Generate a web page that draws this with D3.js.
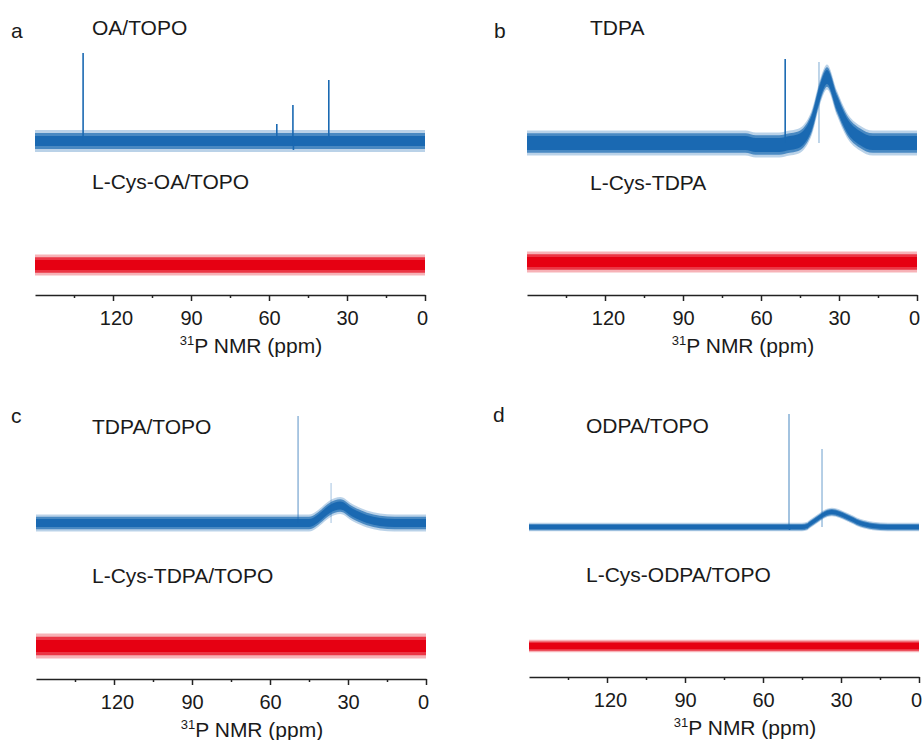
<!DOCTYPE html>
<html>
<head>
<meta charset="utf-8">
<script src="https://cdn.jsdelivr.net/npm/d3@7"></script>
<style>
  html, body { margin: 0; padding: 0; background: #fff; }
  svg { display: block; }
  text { font-family: "Liberation Sans", Arial, sans-serif; fill: #1a1a1a; }
</style>
</head>
<body>
<svg id="chart" width="924" height="740"></svg>
<script>
// ---------------- DATA ----------------
const ppmDomain = [150, 0];
const majorTicks = [120, 90, 60, 30, 0];
const minorTicks = [135, 105, 75, 45, 15];
const axisTitle = "P NMR (ppm)";
const axisTitleSup = "31";

const panelLetters = ["a", "b", "c", "d"];
const topLabels = ["OA/TOPO", "TDPA", "TDPA/TOPO", "ODPA/TOPO"];
const bottomLabels = ["L-Cys-OA/TOPO", "L-Cys-TDPA", "L-Cys-TDPA/TOPO", "L-Cys-ODPA/TOPO"];

// baseline level of each trace (arbitrary intensity units, 0 = axis)
const blueOffsets = [61.6, 60.8, 62.4, 60.0];
const redOffsets = [12.0, 13.2, 13.2, 12.4];
// noise half-widths: [dense core, spike extent]
const blueNoise = [[2.0, 4.4], [2.8, 5.0], [1.6, 3.4], [0.8, 1.7]];
const redNoise = [[2.0, 4.2], [2.0, 4.2], [2.4, 5.0], [1.2, 2.5]];

// broad lineshape of the blue traces: [ppm, intensity above baseline]
const blueProfileA = [[150, 0], [0, 0]];
const blueProfileB = [[150, 0], [66, 0], [62, -0.8], [53, -0.8], [49, 0], [46, 0.6], [43.8, 2], [40.4, 8.4],
                      [37.3, 20.4], [34.6, 26.4], [30.8, 16], [27, 7.2], [22, 2], [17, 0], [0, 0]];
const blueProfileC = [[150, 0], [45, 0], [43.5, 0.4], [40.8, 2.4], [37, 5.6], [33, 7], [28, 4],
                      [22.7, 1.6], [17.7, 0.4], [12, 0], [0, 0]];
const blueProfileD = [[150, 0], [45, 0], [43, 0.4], [42, 1.2], [39.2, 3.2], [37, 4.8], [33.5, 6],
                      [27.7, 4], [22.7, 1.6], [17.7, 0.4], [12, 0], [0, 0]];
const blueProfiles = [blueProfileA, blueProfileB, blueProfileC, blueProfileD];
const redProfile = [[150, 0], [0, 0]];

// sharp lines of the blue traces: [ppm, height above baseline, strength(0-1)]
const sharpA = [[131.5, 35.2, 1], [57, 6.8, 1], [50.8, 14.4, 1], [50.6, -3.6, 1], [37, 24.4, 1]];
const sharpB = [[50.7, 33.6, 1], [37.7, 32.4, 0.35]];
const sharpC = [[49.2, 42.8, 0.45], [36.5, 16, 0.25]];
const sharpD = [[50, 45.2, 0.5], [49.8, -1.2, 1], [37.3, 31.2, 0.4]];
const sharpLines = [sharpA, sharpB, sharpC, sharpD];

// ---------------- LAYOUT / STYLE ----------------
const layout = [
  { x0: 35,  x1: 425, axisY: 295, letter: [11, 37.5],  top: [92, 34.5],  bottom: [92, 189] },
  { x0: 527, x1: 917, axisY: 295, letter: [494, 38],   top: [590, 35],   bottom: [590, 190] },
  { x0: 36,  x1: 426, axisY: 679, letter: [11, 422.5], top: [92, 434],   bottom: [92, 583] },
  { x0: 529, x1: 919, axisY: 677, letter: [493, 421.5],top: [586, 432.5],bottom: [586, 581.5] }
];
const tickLabelShift = { 120: 3, 0: -3 };
const BLUE = "#1a69b2";
const RED = "#e60012";
const FONT = 21;

const svg = d3.select("#chart");

layout.forEach((L, i) => {
  const g = svg.append("g");
  const x = d3.scaleLinear().domain(ppmDomain).range([L.x0, L.x1]);
  const y = d3.scaleLinear().domain([0, 100]).range([L.axisY, L.axisY - 250]);

  function band(profile, offset, half) {
    return d3.area()
      .x(d => x(d[0]))
      .y0(d => y(offset + d[1] - half))
      .y1(d => y(offset + d[1] + half))
      .curve(d3.curveMonotoneX)(profile);
  }

  function trace(profile, offset, noise, color) {
    g.append("path").attr("d", band(profile, offset, noise[1]))
      .attr("fill", color).attr("opacity", 0.3);
    g.append("path").attr("d", band(profile, offset, (noise[0] + noise[1]) / 2))
      .attr("fill", color).attr("opacity", 0.7);
    g.append("path").attr("d", band(profile, offset, noise[0]))
      .attr("fill", color);
  }

  trace(redProfile, redOffsets[i], redNoise[i], RED);
  trace(blueProfiles[i], blueOffsets[i], blueNoise[i], BLUE);

  g.selectAll("line.sharp").data(sharpLines[i]).enter().append("line")
    .attr("class", "sharp")
    .attr("x1", d => x(d[0])).attr("x2", d => x(d[0]))
    .attr("y1", y(blueOffsets[i]))
    .attr("y2", d => y(blueOffsets[i] + d[1]))
    .attr("stroke", BLUE)
    .attr("stroke-opacity", d => d[2])
    .attr("stroke-width", 1.6);

  // axis
  const axisMajor = d3.axisBottom(x).tickValues(majorTicks).tickSize(6).tickSizeOuter(0)
    .tickPadding(10).tickFormat(d3.format("d"));
  const ag = g.append("g").attr("transform", `translate(0,${L.axisY})`).call(axisMajor);
  ag.select(".domain").attr("stroke", "#222").attr("stroke-width", 1.5);
  ag.selectAll(".tick line").attr("stroke", "#222").attr("stroke-width", 1.5);
  ag.selectAll(".tick text").attr("font-size", 20).attr("fill", "#1a1a1a")
    .attr("font-family", '"Liberation Sans", Arial, sans-serif')
    .attr("dx", d => tickLabelShift[d] || 0);

  const axisMinor = d3.axisBottom(x).tickValues(minorTicks).tickSize(3).tickSizeOuter(0).tickFormat("");
  const mg = g.append("g").attr("transform", `translate(0,${L.axisY})`).call(axisMinor);
  mg.select(".domain").remove();
  mg.selectAll(".tick line").attr("stroke", "#222").attr("stroke-width", 1.5);

  // axis title with superscript
  const tt = g.append("text")
    .attr("x", (L.x0 + L.x1) / 2 + 21)
    .attr("y", L.axisY + 58)
    .attr("text-anchor", "middle")
    .attr("font-size", FONT);
  tt.append("tspan").attr("font-size", 13).attr("dy", -8).text(axisTitleSup);
  tt.append("tspan").attr("dy", 8).text(axisTitle);

  // labels
  g.append("text").attr("x", L.letter[0]).attr("y", L.letter[1]).attr("font-size", FONT).text(panelLetters[i]);
  g.append("text").attr("x", L.top[0]).attr("y", L.top[1]).attr("font-size", FONT).text(topLabels[i]);
  g.append("text").attr("x", L.bottom[0]).attr("y", L.bottom[1]).attr("font-size", FONT).text(bottomLabels[i]);
});
</script>
</body>
</html>
